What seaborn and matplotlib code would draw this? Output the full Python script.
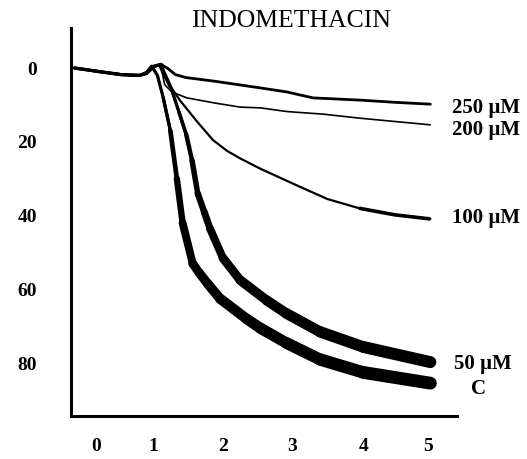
import numpy as np
import pandas as pd
import matplotlib
matplotlib.use("Agg")
import matplotlib.pyplot as plt
from matplotlib.collections import LineCollection
import seaborn as sns

# ---------------- data (time in min, aggregation in %) ----------------
title = "INDOMETHACIN"
series_names = ["250 µM", "200 µM", "100 µM", "50 µM", "C"]

t_250 = [0.05, 0.4, 0.7, 0.95, 1.05, 1.15, 1.25, 1.35, 1.45, 1.6, 2.0, 2.35, 2.63, 3.0, 3.36, 4.01, 4.5, 4.99]
y_250 = [0.0, 1.0, 1.8, 2.0, 1.5, -0.3, -1.0, 0.2, 1.8, 2.6, 3.6, 4.6, 5.4, 6.5, 8.1, 8.7, 9.3, 9.8]

t_200 = [0.05, 0.4, 0.7, 0.95, 1.05, 1.15, 1.22, 1.27, 1.3, 1.4, 1.61, 2.0, 2.35, 2.63, 3.0, 3.5, 4.01, 4.5, 4.99]
y_200 = [0.0, 1.0, 1.8, 2.0, 1.5, -0.3, -0.8, 1.5, 4.5, 6.5, 8.1, 9.5, 10.6, 10.8, 11.8, 12.5, 13.6, 14.5, 15.4]

t_100 = [0.05, 0.4, 0.7, 0.95, 1.05, 1.15, 1.25, 1.32, 1.4, 1.51, 1.75, 1.97, 2.17, 2.35, 2.63, 3.18, 3.56, 4.0, 4.5, 4.99]
y_100 = [0.0, 1.0, 1.8, 2.0, 1.5, -0.5, -1.0, 2.0, 5.5, 8.7, 14.5, 19.5, 22.5, 24.5, 27.3, 32.2, 35.5, 38.0, 39.8, 40.9]

t_50 = [0.05, 0.4, 0.7, 0.95, 1.05, 1.15, 1.25, 1.3, 1.4, 1.5, 1.6, 1.68, 1.76, 1.85, 1.93, 2.11, 2.35, 2.72, 2.99, 3.46, 4.06, 4.99]
y_50 = [0.0, 1.0, 1.8, 2.0, 1.5, -0.5, -1.0, 2.0, 6.0, 12.0, 18.0, 25.0, 34.0, 39.0, 43.5, 51.5, 57.5, 63.0, 66.5, 71.5, 75.6, 79.7]

t_c = [0.05, 0.4, 0.7, 0.95, 1.05, 1.12, 1.2, 1.28, 1.38, 1.47, 1.55, 1.69, 1.78, 1.9, 2.07, 2.44, 2.63, 2.99, 3.46, 4.06, 4.99]
y_c = [0.0, 1.0, 1.8, 2.0, 1.2, -0.5, 2.0, 8.0, 17.0, 30.0, 42.0, 53.0, 55.5, 58.5, 62.5, 68.0, 70.5, 74.5, 79.0, 82.5, 85.4]

x_tick_labels = ["0", "1", "2", "3", "4", "5"]
y_tick_values = [0, 20, 40, 60, 80]

# ---------------- figure ----------------
sns.set_theme(style="white")
plt.rcParams["font.family"] = ["Liberation Serif", "DejaVu Serif"]

W, H = 527, 459
fig = plt.figure(figsize=(W / 100, H / 100), dpi=100)
ax = fig.add_axes([71 / W, 1 - 416 / H, (457 - 71) / W, (416 - 28) / H])

curves = [(t_250, y_250), (t_200, y_200), (t_100, y_100), (t_50, y_50), (t_c, y_c)]
df = pd.concat(
    [pd.DataFrame({"t": t, "y": y, "s": n}) for n, (t, y) in zip(series_names, curves)],
    ignore_index=True,
)

widths = {"250 µM": 2.0, "200 µM": 1.2, "100 µM": 1.6, "50 µM": 2.3, "C": 2.3}
for n in series_names:
    sub = df[df["s"] == n]
    sns.lineplot(data=sub, x="t", y="y", sort=False, estimator=None, color="black",
                 linewidth=widths[n], ax=ax, legend=False)

# noisy, thick traces for the strongly aggregating samples
for t, y in [(t_50, y_50), (t_c, y_c)]:
    pts = np.column_stack([t, y])
    segs = np.stack([pts[:-1], pts[1:]], axis=1)
    ymid = (pts[:-1, 1] + pts[1:, 1]) / 2
    lw = (1.5 + 0.135 * np.clip(ymid, 0, None)) / 1.389
    lc = LineCollection(segs, linewidths=lw, colors="black", capstyle="round", joinstyle="round")
    ax.add_collection(lc)

# 100 µM trace thickens at its end
ax.plot(t_100[-3:], y_100[-3:], color="black", linewidth=2.6, solid_capstyle="butt")

ax.set_xlim(0, 5.36)
ax.set_ylim(94.3, -10.84)
ax.set_xlabel("")
ax.set_ylabel("")

# ticks
ax.set_xticks([1, 2, 3, 4, 5], minor=True)
ax.set_xticks([0.35, 1.14, 2.11, 3.07, 4.07, 4.96], labels=x_tick_labels)
ax.set_yticks(y_tick_values, labels=[str(v) for v in y_tick_values])
ax.tick_params(axis="x", which="major", length=0, pad=16)
ax.tick_params(axis="x", which="minor", direction="inout", length=11, width=1.6, color="black")
ax.tick_params(axis="y", which="major", direction="inout", length=11, width=1.6, color="black", pad=19)
for lab in ax.get_xticklabels() + ax.get_yticklabels():
    lab.set_fontweight("bold")
    lab.set_fontsize(14)
    lab.set_color("black")

for side in ["top", "right"]:
    ax.spines[side].set_visible(False)
for side in ["left", "bottom"]:
    ax.spines[side].set_color("black")
    ax.spines[side].set_linewidth(2.2)

# curve labels
label_pos = {"250 µM": (5.29, 10.8), "200 µM": (5.29, 16.8), "100 µM": (5.29, 40.7),
             "50 µM": (5.32, 80.3), "C": (5.56, 87.0)}
for n in series_names:
    x, y = label_pos[n]
    ax.text(x, y, n, fontsize=15, fontweight="bold", ha="left", va="center",
            color="black", clip_on=False)

fig.text(291 / W, 1 - 21 / H, title, fontsize=18.5, ha="center", va="center", color="black")

fig.savefig("out.png", dpi=100)
